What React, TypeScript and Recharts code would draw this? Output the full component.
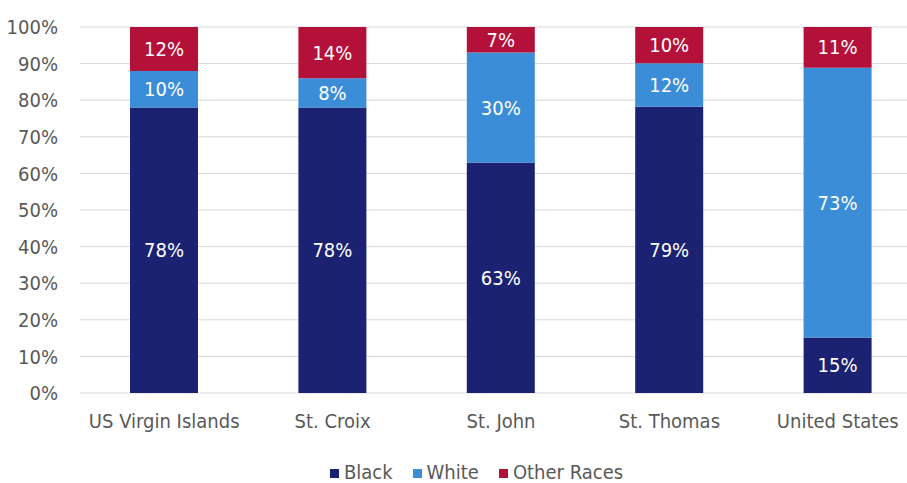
import React from 'react';
import { BarChart, Bar, XAxis, YAxis, CartesianGrid, Legend, LabelList } from 'recharts';

// shares in percent
const regions = ['US Virgin Islands', 'St. Croix', 'St. John', 'St. Thomas', 'United States'];
const black = [78, 78, 63, 79, 15];
const white = [10, 8, 30, 12, 73];
const otherRaces = [12, 14, 7, 10, 11];
const yTicks = [0, 0.1, 0.2, 0.3, 0.4, 0.5, 0.6, 0.7, 0.8, 0.9, 1];

const series = [
  { key: 'black', label: 'Black', color: '#1c2272' },
  { key: 'white', label: 'White', color: '#3b8dd7' },
  { key: 'other', label: 'Other Races', color: '#b3113a' },
];

const data = regions.map((name, i) => ({
  name,
  black: black[i],
  white: white[i],
  other: otherRaces[i],
}));

const FONT = "'Liberation Sans Narrow', 'Arial Narrow', 'DejaVu Sans Condensed', sans-serif";
const GREY = '#595959';

const LegendRow = () => (
  <div
    style={{
      display: 'flex',
      justifyContent: 'center',
      gap: 20,
      height: 20,
      lineHeight: '20px',
      fontFamily: FONT,
      fontSize: 20,
      color: GREY,
    }}
  >
    {series.map((s) => (
      <div key={s.key} style={{ display: 'flex', alignItems: 'center', gap: 5 }}>
        <span style={{ width: 9, height: 9, marginTop: 3, background: s.color, display: 'inline-block' }} />
        <span>{s.label}</span>
      </div>
    ))}
  </div>
);

const App: React.FC = () => {
  return (
    <div style={{ position: 'fixed', left: 0, top: 0, width: 907, height: 483, overflow: 'hidden', background: '#fff' }}>
      <BarChart
        width={930}
        height={483}
        data={data}
        stackOffset="expand"
        margin={{ top: 27, right: 8, left: 0, bottom: 40 }}
        style={{ fontFamily: FONT }}
      >
        <CartesianGrid vertical={false} stroke="#d9d9d9" />
        <XAxis
          dataKey="name"
          axisLine={false}
          tickLine={false}
          tickSize={0}
          tickMargin={21}
          height={30}
          interval={0}
          tick={{ fill: GREY, fontSize: 20 }}
        />
        <YAxis
          axisLine={false}
          tickLine={false}
          tickSize={0}
          tickMargin={22}
          width={80}
          domain={[0, 1]}
          ticks={yTicks}
          interval={0}
          tickFormatter={(v: number) => `${Math.round(v * 100)}%`}
          tick={{ fill: GREY, fontSize: 20 }}
        />
        <Legend
          verticalAlign="bottom"
          wrapperStyle={{ top: 462, left: 23, width: 907, height: 20 }}
          content={() => <LegendRow />}
        />
        {series.map((s) => (
          <Bar key={s.key} dataKey={s.key} stackId="a" fill={s.color} barSize={68} isAnimationActive={false}>
            <LabelList
              dataKey={s.key}
              position="center"
              fill="#ffffff"
              fontSize={20}
              formatter={(v: number) => `${v}%`}
            />
          </Bar>
        ))}
      </BarChart>
    </div>
  );
};

export default App;
